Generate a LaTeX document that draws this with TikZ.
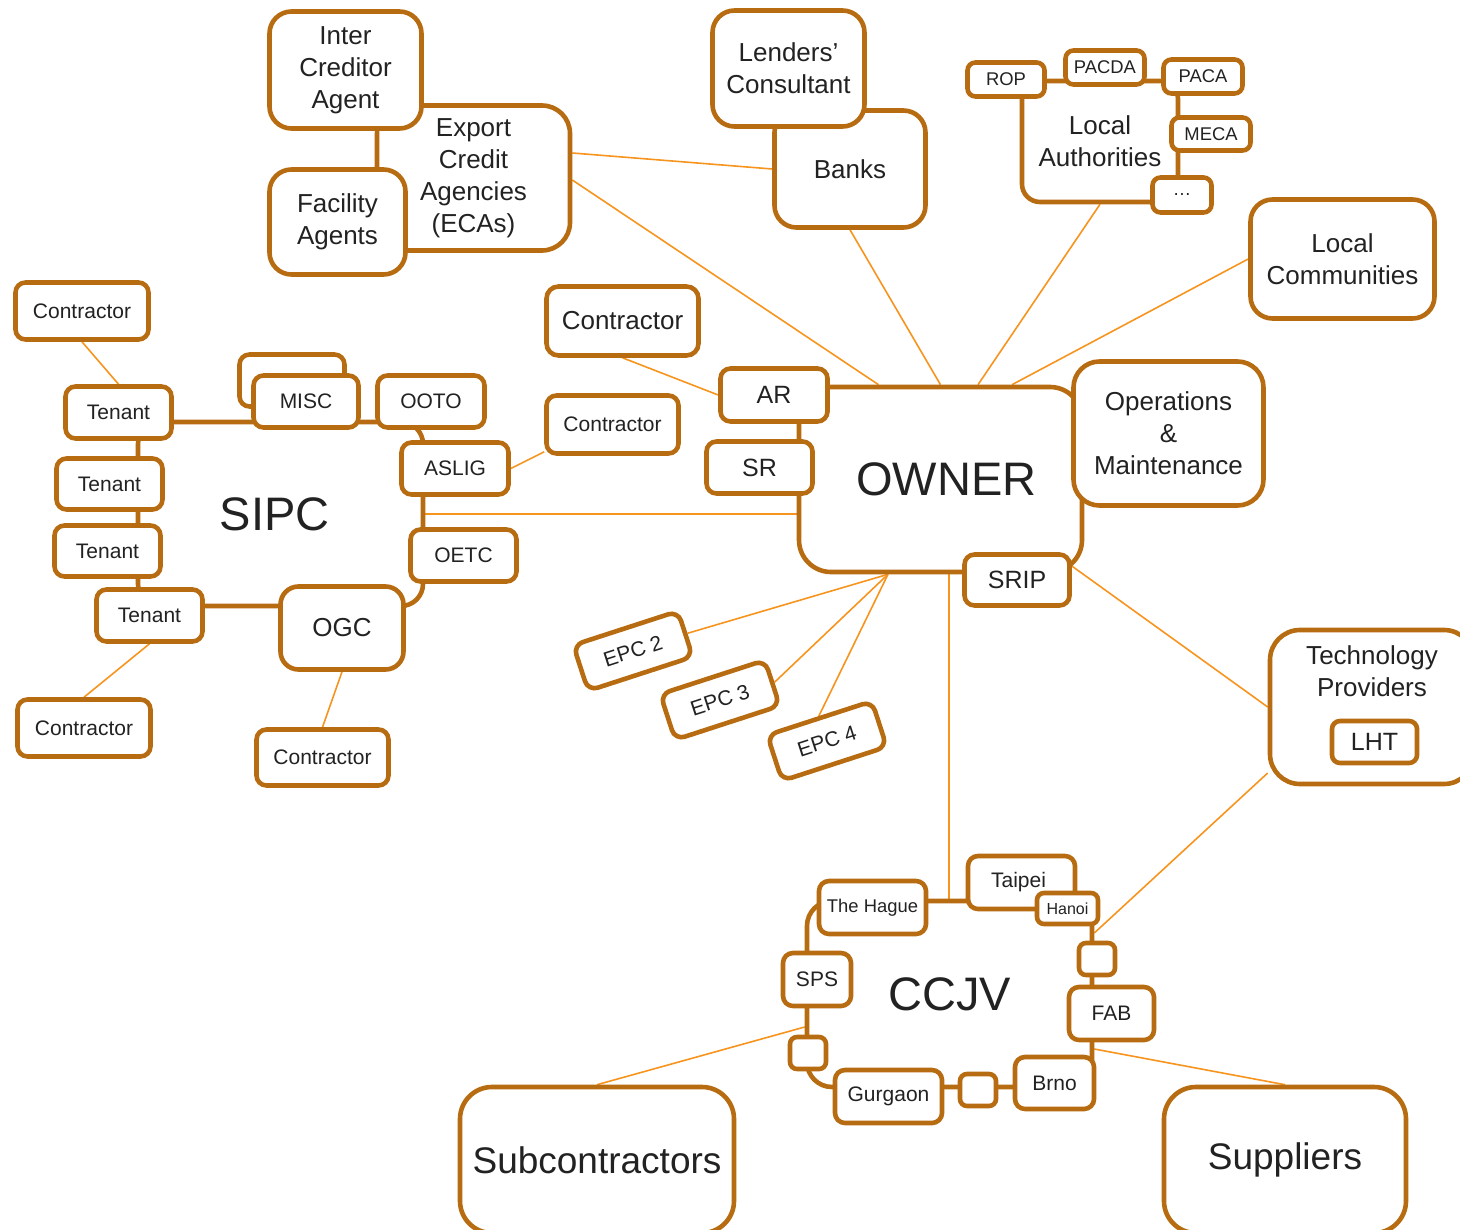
\documentclass[tikz,border=0pt]{standalone}
\usepackage{fontspec}
\setmainfont{Liberation Sans}
\usetikzlibrary{calc,backgrounds}
\definecolor{brn}{RGB}{183,108,17}
\definecolor{org}{RGB}{247,148,30}
\definecolor{ink}{RGB}{34,34,34}
\tikzset{
  box/.style={draw=brn, line width=4.6pt, fill=white, rounded corners=10pt,
    text=ink, inner sep=0pt, align=center},
  sz/.style 2 args={minimum width=#1pt, minimum height=#2pt},
  link/.style={draw=org, line width=1.6pt},
  f16/.style={font=\fontsize{16}{19}\selectfont},
  f18/.style={font=\fontsize{18.4}{22}\selectfont},
  f21/.style={font=\fontsize{21}{25}\selectfont},
  f25/.style={font=\fontsize{25}{30}\selectfont},
  f26/.style={font=\fontsize{26}{32}\selectfont},
  f37/.style={font=\fontsize{37}{44}\selectfont},
  f47/.style={font=\fontsize{47}{56}\selectfont},
}
\begin{document}
\begin{tikzpicture}[x=1pt,y=-1pt]
\useasboundingbox (0,0) rectangle (1460,1230);

% ---- group outlines ----
\node[box, sz={193}{145}, rounded corners=28pt, f26] (eca) at (473.5,178) {Export\\Credit\\Agencies\\(ECAs)};
\node[box, sz={156}{121}, rounded corners=18pt, f26] (la) at (1100,141.5) {Local\\Authorities};
\node[box, sz={285}{184}, rounded corners=22pt, f47] (sipc) at (280.5,514) {SIPC\hspace*{12pt}};
\node[box, sz={283}{185}, rounded corners=32pt, f47] (owner) at (940.5,479.5) {\hspace*{12pt}OWNER};
\node[box, sz={285}{186}, rounded corners=25pt, f47] (ccjv) at (949.5,994) {CCJV};

% ---- financing ----
\node[box, sz={152}{117}, rounded corners=22pt, f26] (ica) at (345.5,70) {Inter\\Creditor\\Agent};
\node[box, sz={136}{105}, rounded corners=22pt, f26] (fa) at (337.5,222) {Facility\\Agents};
\node[box, sz={151}{117}, rounded corners=22pt, f26] (banks) at (850,169) {Banks};
\node[box, sz={152}{116}, rounded corners=22pt, f26] (lcons) at (788.5,68.5) {Lenders’\\Consultant};

% ---- local authorities ----
\node[box, sz={77}{34}, rounded corners=8pt, f18] (rop) at (1006,79.5) {ROP};
\node[box, sz={79}{34}, rounded corners=8pt, f18] (pacda) at (1105,67.5) {PACDA};
\node[box, sz={79}{34}, rounded corners=8pt, f18] (paca) at (1203,76.5) {PACA};
\node[box, sz={79}{33}, rounded corners=8pt, f18] (meca) at (1211,134) {MECA};
\node[box, sz={59}{35}, rounded corners=8pt, f18] (etc) at (1182,195) {…};

% ---- owner side ----
\node[box, sz={184}{119}, rounded corners=22pt, f26] (lcomm) at (1342.5,259) {Local\\Communities};
\node[box, sz={152}{69}, rounded corners=12pt, f26] (contra) at (622.5,321) {Contractor};
\node[box, sz={107}{53}, f25] (ar) at (774,395) {AR};
\node[box, sz={106}{52}, f25] (sr) at (759.5,467.5) {SR};
\node[box, sz={190}{144}, rounded corners=26pt, f26] (om) at (1168.5,433.5) {Operations\\\&\\Maintenance};
\node[box, sz={105}{51}, f25] (srip) at (1017,580) {SRIP};

% ---- SIPC members ----
\node[box, sz={132}{58}, f21] (contrb) at (612.5,424.5) {Contractor};
\node[box, sz={133}{57}, f21] (contrtl) at (82,311) {Contractor};
\node[box, sz={106}{52}, f21] (ten1) at (118.5,412.5) {Tenant};
\node[box, sz={106}{51}, f21] (ten2) at (109.5,484) {Tenant};
\node[box, sz={106}{51}, f21] (ten3) at (107.5,551) {Tenant};
\node[box, sz={106}{52}, f21] (ten4) at (149.5,615.5) {Tenant};
\node[box, sz={105}{52}] (misc2) at (292,380.5) {};
\node[box, sz={105}{52}, f21] (misc) at (306,401.5) {MISC};
\node[box, sz={107}{52}, f21] (ooto) at (431,401.5) {OOTO};
\node[box, sz={107}{52}, f21] (aslig) at (455,468.5) {ASLIG};
\node[box, sz={106}{52}, f21] (oetc) at (463.5,555.5) {OETC};
\node[box, sz={123}{83}, rounded corners=18pt, f26] (ogc) at (342,628) {OGC};
\node[box, sz={133}{57}, f21] (contrbl) at (84,728) {Contractor};
\node[box, sz={132}{56}, f21] (contrbr) at (322.5,757.5) {Contractor};

% ---- EPC packages ----
\node[box, sz={110}{48}, rotate=18, f21] (epc2) at (633,651) {EPC 2};
\node[box, sz={110}{48}, rotate=18, f21] (epc3) at (720,700) {EPC 3};
\node[box, sz={110}{48}, rotate=18, f21] (epc4) at (827,741) {EPC 4};

% ---- technology ----
\node[box, sz={204}{154}, rounded corners=30pt] (tp) at (1372,707) {};
\node[text=ink, f26, align=center] (tplabel) at (1372,671) {Technology\\Providers};
\node[box, sz={85}{42}, rounded corners=8pt, f25] (lht) at (1374.5,742) {LHT};

% ---- CCJV offices ----
\node[box, sz={107}{53}, f18] (hague) at (872.5,907.5) {The Hague};
\node[box, sz={107}{53}, f21] (taipei) at (1021.5,882.5) {\raisebox{2pt}{Taipei}\hspace*{6pt}};
\node[box, sz={61}{31}, rounded corners=7pt, f16] (hanoi) at (1067.5,908.5) {Hanoi};
\node[box, sz={36}{32}, rounded corners=7pt] (sq1) at (1097,959) {};
\node[box, sz={85}{53}, f21] (fab) at (1111.5,1013.5) {FAB};
\node[box, sz={79}{52}, f21] (brno) at (1054.5,1083) {Brno};
\node[box, sz={36}{32}, rounded corners=7pt] (sq2) at (978,1090) {};
\node[box, sz={107}{53}, f21] (gurg) at (888.5,1096.5) {Gurgaon};
\node[box, sz={36}{32}, rounded corners=7pt] (sq3) at (808,1053) {};
\node[box, sz={68}{53}, f21] (sps) at (817,979.5) {SPS};

% ---- outer parties of the joint venture ----
\node[box, sz={274}{146}, rounded corners=32pt, f37] (sub) at (597,1160) {Subcontractors};
\node[box, sz={242}{146}, rounded corners=32pt, f37] (sup) at (1285,1160) {Suppliers};

% ---- connectors ----
\begin{pgfonlayer}{background}
\draw[link] ([yshift=25pt]eca.east) -- (banks.west);
\draw[link] ([yshift=-2pt]eca.east) -- ([xshift=-62pt]owner.north);
\draw[link] (banks.south) -- (owner.north);
\draw[link] (la.south) -- ([xshift=37.5pt]owner.north);
\draw[link] (lcomm.west) -- ([xshift=71.5pt]owner.north);
\draw[link] (contra.south) -- (ar.west);
\draw[link] ([yshift=4pt]contrb.south west) -- (aslig.east);
\draw[link] (sipc.east) -- (sipc.east -| owner.west);
\draw[link] ([xshift=-52.5pt]owner.south) -- (epc2.east);
\draw[link] ([xshift=-52.5pt]owner.south) -- (epc3.east);
\draw[link] ([xshift=-52.5pt]owner.south) -- (epc4.north);
\draw[link, line width=2pt] ([xshift=-1pt]ccjv.north |- owner.south) -- ([xshift=-1pt]ccjv.north);
\draw[link] ([yshift=14pt]srip.east) -- (tp.west);
\draw[link] ([yshift=-66pt]tp.west) -- ([yshift=61pt]ccjv.east);
\draw[link] ([yshift=-33pt]ccjv.west) -- (sub.north);
\draw[link] ([yshift=-55pt]ccjv.east) -- (sup.north);
\draw[link] (contrtl.south) -- (ten1.north);
\draw[link] (ten4.south) -- (contrbl.north);
\draw[link] (ogc.south) -- (contrbr.north);
\end{pgfonlayer}

\end{tikzpicture}
\end{document}
